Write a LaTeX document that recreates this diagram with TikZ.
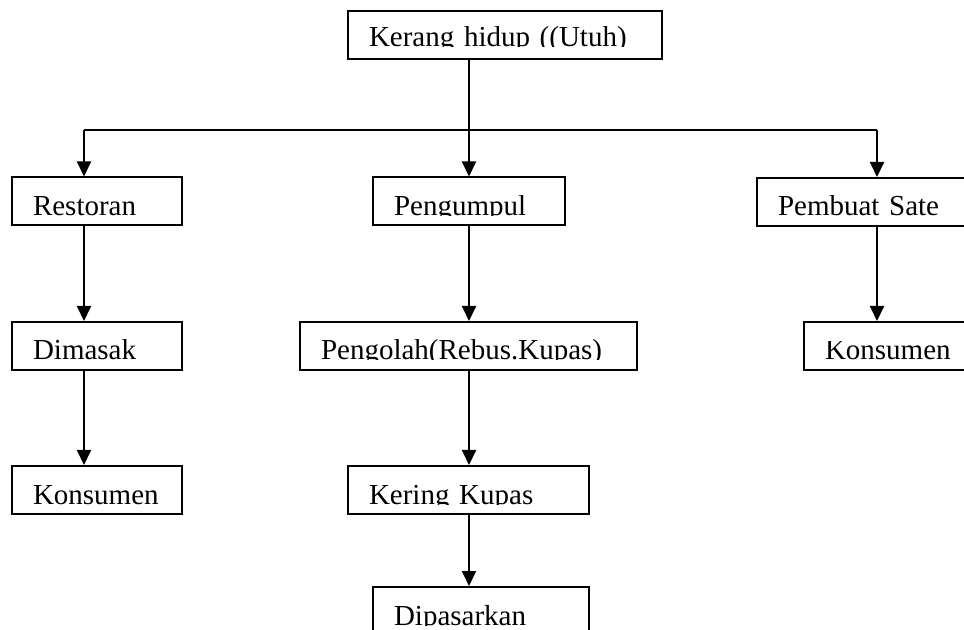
\documentclass[tikz,border=0pt]{standalone}
\usepackage{fontspec}
\setmainfont{Liberation Serif}
\usepackage{trimclip}
\usetikzlibrary{arrows.meta}
\newcommand{\cut}[1]{\clipbox{0pt {\depth} 0pt 0pt}{#1}}
\begin{document}
\begin{tikzpicture}[x=.5pt, y=-.5pt, >={Triangle[length=7.5pt,width=7pt]}, line width=1pt,
    box/.style={draw, rectangle, text width=#1, align=left, inner xsep=10.5pt, inner ysep=0pt,
        text height=14pt, text depth=0pt, minimum height=24pt, font=\fontsize{14.5}{17}\selectfont}]
\clip (0,0) rectangle (964,630);
\node[box=136pt, text height=12pt] (kerang) at (505,35) {\cut{Kerang hidup ((Utuh)}};

\node[box=64pt] (restoran) at (97,201.5) {\cut{Restoran}};
\node[box=75pt] (pengumpul) at (469,201.5) {\cut{Pengumpul}};
\node[box=85.5pt] (pembuat) at (863.5,202) {\cut{Pembuat Sate}};

\node[box=64pt] (dimasak) at (97,346) {\cut{Dimasak}};
\node[box=147.5pt] (pengolah) at (468.5,346) {\cut{Pengolah(Rebus.Kupas)}};
\node[box=62pt] (konsumenB) at (887,346) {\cut{Konsumen}};

\node[box=64pt] (konsumenA) at (97,490) {\cut{Konsumen}};
\node[box=99.5pt] (kering) at (468.5,490) {\cut{Kering Kupas}};
\node[box=87pt] (dipasarkan) at (481,611) {\cut{Dipasarkan}};

\coordinate (kiri) at (84,130);
\coordinate (tengah) at (469,130);
\coordinate (kanan) at (877,130);

\draw (kerang.south -| tengah) -- (tengah);
\draw (kiri) -- (kanan);
\draw[->] (kiri) -- (restoran.north -| kiri);
\draw[->] (tengah) -- (pengumpul.north -| tengah);
\draw[->] (kanan) -- (pembuat.north -| kanan);

\draw[->] (restoran.south -| kiri) -- (dimasak.north -| kiri);
\draw[->] (dimasak.south -| kiri) -- (konsumenA.north -| kiri);
\draw[->] (pengumpul.south -| tengah) -- (pengolah.north -| tengah);
\draw[->] (pengolah.south -| tengah) -- (kering.north -| tengah);
\draw[->] (kering.south -| tengah) -- (dipasarkan.north -| tengah);
\draw[->] (pembuat.south -| kanan) -- (konsumenB.north -| kanan);

\end{tikzpicture}
\end{document}
